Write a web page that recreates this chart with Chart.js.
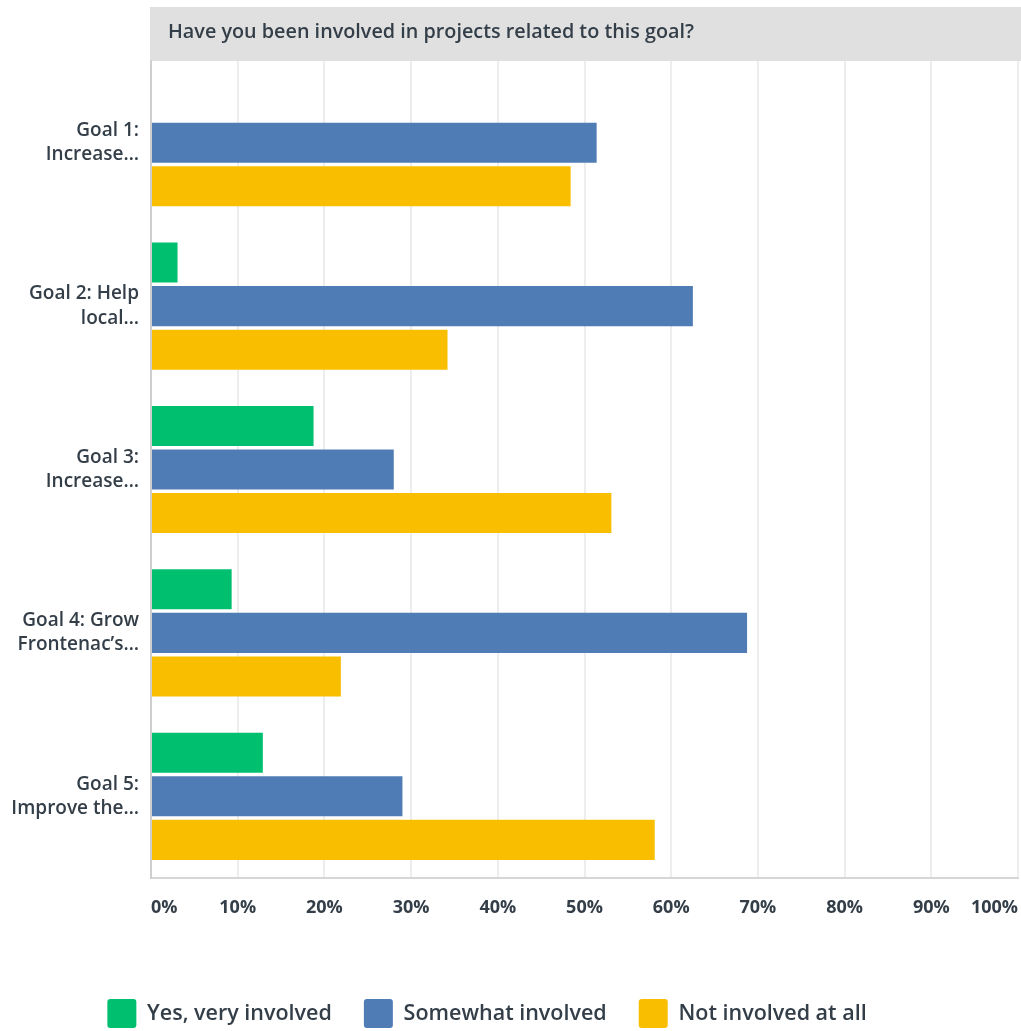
<!DOCTYPE html>
<html>
<head>
<meta charset="utf-8">
<script src="https://cdn.jsdelivr.net/npm/chart.js@4/dist/chart.umd.min.js"></script>
<style>
  html, body { margin: 0; padding: 0; background: #ffffff; }
  #wrap { position: relative; width: 1021px; height: 1031px; }
</style>
</head>
<body>
<div id="wrap"><canvas id="c"></canvas></div>
<script>
// Survey question and answer categories
const question = 'Have you been involved in projects related to this goal?';
const goals = [
  ['Goal 1:', 'Increase\u2026'],
  ['Goal 2: Help', 'local\u2026'],
  ['Goal 3:', 'Increase\u2026'],
  ['Goal 4: Grow', 'Frontenac\u2019s\u2026'],
  ['Goal 5:', 'Improve the\u2026']
];
const seriesNames = ['Yes, very involved', 'Somewhat involved', 'Not involved at all'];

// Share of respondents (%) per goal
const veryInvolved = [0, 3.06, 18.75, 9.3, 12.9];
const somewhatInvolved = [51.4, 62.5, 28.0, 68.75, 29.0];
const notInvolved = [48.4, 34.2, 53.1, 21.9, 58.1];

const xTicks = [0, 10, 20, 30, 40, 50, 60, 70, 80, 90, 100];

const seriesColors = ['#00BF6F', '#507CB6', '#F9BE00'];
const textColor = '#333E48';
const fontFamily = '"Open Sans", "DejaVu Sans", sans-serif';

// Grey header band carrying the question text above the plot
const headerBand = {
  id: 'headerBand',
  afterLayout(chart) {
    // legend row sits lower and a bit left of centre
    const lg = chart.legend;
    lg.top += 7;
    lg.bottom += 7;
    lg.left -= 22;
    lg.right -= 22;
  },
  beforeDraw(chart) {
    const { ctx, chartArea } = chart;
    ctx.save();
    ctx.fillStyle = '#E0E0E0';
    ctx.fillRect(chartArea.left - 1, 7, chart.width - chartArea.left + 1, 54);
    ctx.fillStyle = textColor;
    ctx.font = '600 19.8px ' + fontFamily;
    ctx.textBaseline = 'middle';
    ctx.textAlign = 'left';
    ctx.fillText(question, chartArea.left + 17, 32);
    ctx.restore();
  }
};

new Chart(document.getElementById('c'), {
  type: 'bar',
  data: {
    labels: goals,
    datasets: [
      { label: seriesNames[0], data: veryInvolved, backgroundColor: seriesColors[0] },
      { label: seriesNames[1], data: somewhatInvolved, backgroundColor: seriesColors[1] },
      { label: seriesNames[2], data: notInvolved, backgroundColor: seriesColors[2] }
    ]
  },
  options: {
    indexAxis: 'y',
    responsive: true,
    maintainAspectRatio: false,
    animation: false,
    devicePixelRatio: 1,
    categoryPercentage: 0.8,
    barPercentage: 0.92,
    layout: { padding: { top: 61, right: 3, left: 0, bottom: 0 } },
    scales: {
      x: {
        min: 0,
        max: 100,
        afterBuildTicks(scale) {
          scale.ticks = xTicks.map(v => ({ value: v }));
        },
        afterFit(scale) {
          scale.height = 82;
          scale.paddingLeft = 0;
          scale.paddingRight = 0;
        },
        ticks: {
          align: 'inner',
          padding: 19,
          color: textColor,
          font: { family: fontFamily, size: 18, weight: '700' },
          callback: v => v + '%',
          maxRotation: 0,
          autoSkip: false
        },
        grid: { color: '#EDEDED', lineWidth: 2, drawTicks: false },
        border: { color: '#D6D6D6', width: 2 }
      },
      y: {
        afterFit(scale) { scale.width = 151; },
        ticks: {
          padding: 12,
          color: textColor,
          font: { family: fontFamily, size: 19, weight: '600', lineHeight: 1.27 }
        },
        grid: { display: false, drawTicks: false },
        border: { color: '#CFCFCF', width: 2 }
      }
    },
    plugins: {
      legend: {
        position: 'bottom',
        labels: {
          boxWidth: 29,
          boxHeight: 29,
          useBorderRadius: true,
          borderRadius: 3,
          padding: 32,
          color: textColor,
          font: { family: fontFamily, size: 21.5, weight: '600' }
        }
      },
      tooltip: { enabled: false },
      title: { display: false }
    }
  },
  plugins: [headerBand]
});
</script>
</body>
</html>
